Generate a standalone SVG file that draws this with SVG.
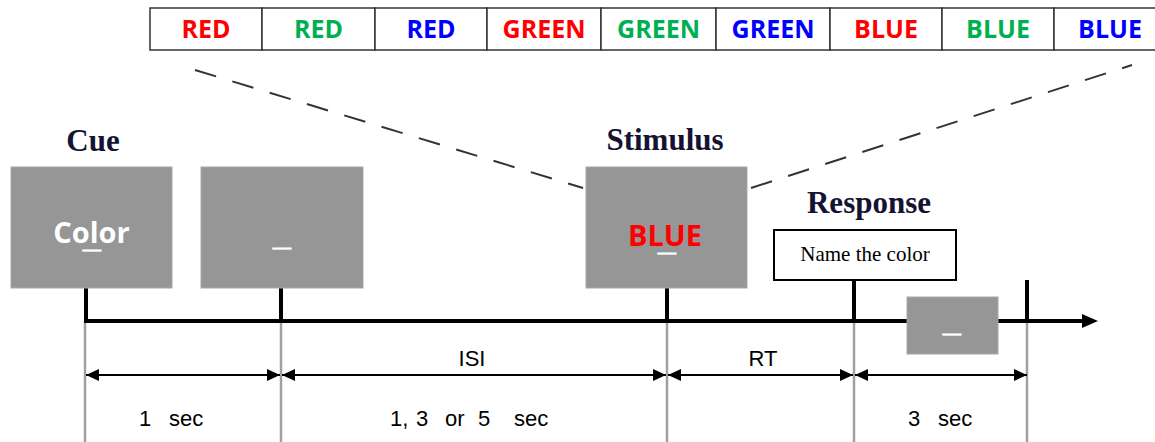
<svg xmlns="http://www.w3.org/2000/svg" width="1155" height="442" viewBox="0 0 1155 442">
<defs>
<style>
.cell{fill:#fff;stroke:#333;stroke-width:1.5}
.w{font-family:"Open Sans","Liberation Sans",sans-serif;font-weight:bold;font-size:25px;text-anchor:middle}
.r{fill:#ff0000}.g{fill:#00b050}.b{fill:#0000ff}
.box{fill:#969696;stroke:#a8a8a8;stroke-width:1}
.big{font-family:"Open Sans","Liberation Sans",sans-serif;font-weight:bold;font-size:29px;text-anchor:middle}
.us{font-family:"Liberation Sans",sans-serif;font-weight:bold;font-size:32px;text-anchor:middle;fill:#fff;stroke:#fff;stroke-width:0.8}
.head{font-family:"Liberation Serif","Times New Roman",serif;font-weight:bold;font-size:31px;text-anchor:middle;fill:#141432}
.lbl{font-family:"Liberation Sans",Arial,sans-serif;font-size:22px;fill:#000}
.tick{stroke:#000;stroke-width:4}
.guide{stroke:#a0a0a0;stroke-width:2.5}
.dash{stroke:#333;stroke-width:2;stroke-dasharray:22 17;fill:none}
.dim{stroke:#000;stroke-width:2;marker-start:url(#ah);marker-end:url(#ah)}
</style>
<marker id="ah" viewBox="0 0 13 12" refX="13" refY="6" markerWidth="13" markerHeight="12" markerUnits="userSpaceOnUse" orient="auto-start-reverse">
<path d="M0,0 L13,6 L0,12 Z" fill="#000"/>
</marker>
</defs>
<rect width="1155" height="442" fill="#fff"/>

<g id="connectors">
<line class="dash" x1="195" y1="70" x2="583" y2="188"/>
<line class="dash" x1="751" y1="188" x2="1132" y2="65"/>
<line class="guide" x1="85" y1="321" x2="85" y2="442"/>
<line class="guide" x1="281" y1="321" x2="281" y2="442"/>
<line class="guide" x1="667" y1="321" x2="667" y2="442"/>
<line class="guide" x1="854" y1="321" x2="854" y2="442"/>
<line class="guide" x1="1027" y1="321" x2="1027" y2="442"/>
<line class="tick" x1="86" y1="288" x2="86" y2="321"/>
<line class="tick" x1="281" y1="288" x2="281" y2="321"/>
<line class="tick" x1="667" y1="288" x2="667" y2="321"/>
<line class="tick" x1="854" y1="280" x2="854" y2="321"/>
<line class="tick" x1="1027" y1="280" x2="1027" y2="321"/>
<line x1="84" y1="321" x2="1086" y2="321" stroke="#000" stroke-width="4"/>
<polygon points="1098,321 1082,314 1082,328" fill="#000"/>
<line class="dim" x1="86" y1="375" x2="280" y2="375"/>
<line class="dim" x1="282" y1="375" x2="666" y2="375"/>
<line class="dim" x1="668" y1="375" x2="853" y2="375"/>
<line class="dim" x1="855" y1="375" x2="1027" y2="375"/>
</g>

<g id="stimulus-table">
<rect class="cell" x="150" y="8" width="112" height="42"/>
<rect class="cell" x="262" y="8" width="113" height="42"/>
<rect class="cell" x="375" y="8" width="112" height="42"/>
<rect class="cell" x="487" y="8" width="114" height="42"/>
<rect class="cell" x="601" y="8" width="115" height="42"/>
<rect class="cell" x="716" y="8" width="114" height="42"/>
<rect class="cell" x="830" y="8" width="112" height="42"/>
<rect class="cell" x="942" y="8" width="112" height="42"/>
<rect class="cell" x="1054" y="8" width="112" height="42"/>
<text class="w r" x="206" y="37.5">RED</text>
<text class="w g" x="318.5" y="37.5">RED</text>
<text class="w b" x="431" y="37.5">RED</text>
<text class="w r" x="544" y="37.5">GREEN</text>
<text class="w g" x="658.5" y="37.5">GREEN</text>
<text class="w b" x="773" y="37.5">GREEN</text>
<text class="w r" x="886" y="37.5">BLUE</text>
<text class="w g" x="998" y="37.5">BLUE</text>
<text class="w b" x="1110" y="37.5">BLUE</text>
</g>

<g id="cue">
<text class="head" x="93" y="151">Cue</text>
<rect class="box" x="11" y="167" width="161" height="121"/>
<text class="big"><tspan x="91.5" y="243" fill="#fff">Color</tspan><tspan class="us" x="92" y="247">_</tspan></text>
</g>

<g id="blank1">
<rect class="box" x="201" y="167" width="162" height="121"/>
<text class="us" x="282" y="245">_</text>
</g>

<g id="stimulus">
<text class="head" x="665" y="150">Stimulus</text>
<rect class="box" x="586" y="167" width="161" height="121"/>
<text class="big"><tspan x="665" y="246" fill="#ff0000">BLUE</tspan><tspan class="us" x="667" y="250">_</tspan></text>
</g>

<g id="response">
<text class="head" x="869" y="213">Response</text>
<rect x="774" y="230" width="182" height="50" fill="#fff" stroke="#000" stroke-width="2"/>
<text x="865" y="261" font-family="Liberation Serif,'Times New Roman',serif" font-size="21" text-anchor="middle" fill="#000">Name the color</text>
</g>

<g id="blank2">
<rect class="box" x="907" y="297" width="91" height="57"/>
<text class="us" x="952" y="331">_</text>
</g>

<g id="labels">
<text class="lbl" x="472" y="366" text-anchor="middle">ISI</text>
<text class="lbl" x="763" y="366" text-anchor="middle">RT</text>
<text class="lbl" y="426"><tspan x="139">1</tspan><tspan x="169">sec</tspan></text>
<text class="lbl" y="426"><tspan x="390">1,</tspan><tspan x="416">3</tspan><tspan x="445">or</tspan><tspan x="478">5</tspan><tspan x="514">sec</tspan></text>
<text class="lbl" y="426"><tspan x="908">3</tspan><tspan x="938">sec</tspan></text>
</g>
</svg>
